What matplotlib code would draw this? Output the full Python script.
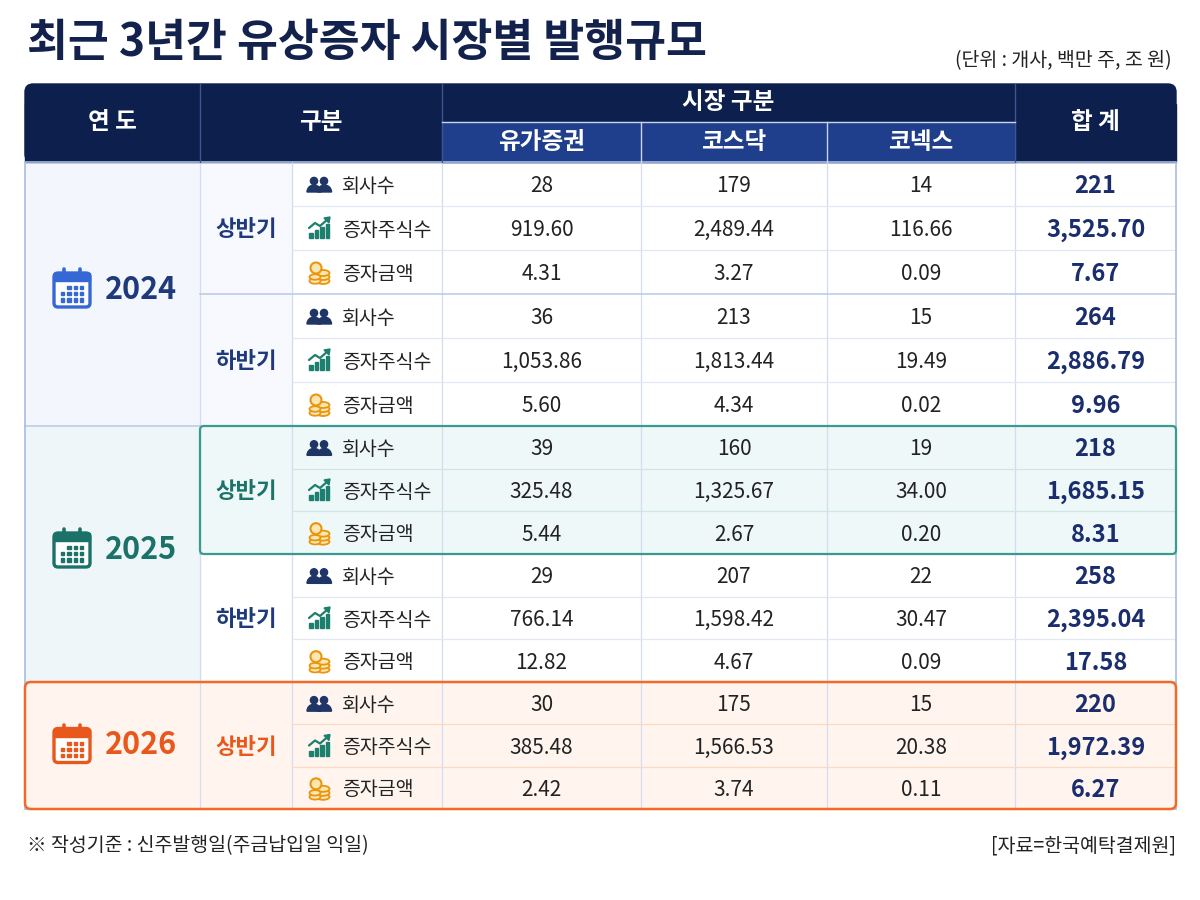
import matplotlib
matplotlib.use("Agg")
import matplotlib.pyplot as plt
from matplotlib.patches import Rectangle, FancyBboxPatch, Circle, Wedge, Ellipse, Polygon

plt.rcParams['font.family'] = ['Noto Sans CJK KR', 'DejaVu Sans']

# ---- data ----
title = "최근 3년간 유상증자 시장별 발행규모"
unit_note = "(단위 : 개사, 백만 주, 조 원)"
foot_left = "※ 작성기준 : 신주발행일(주금납입일 익일)"
foot_right = "[자료=한국예탁결제원]"

years = ["2024", "2025", "2026"]
half_year = ["2024", "2024", "2025", "2025", "2026"]
half_label = ["상반기", "하반기", "상반기", "하반기", "상반기"]
metrics = ["회사수", "증자주식수", "증자금액"]
markets = ["유가증권", "코스닥", "코넥스"]

kospi = [[28, 919.60, 4.31], [36, 1053.86, 5.60], [39, 325.48, 5.44],
         [29, 766.14, 12.82], [30, 385.48, 2.42]]
kosdaq = [[179, 2489.44, 3.27], [213, 1813.44, 4.34], [160, 1325.67, 2.67],
          [207, 1598.42, 4.67], [175, 1566.53, 3.74]]
konex = [[14, 116.66, 0.09], [15, 19.49, 0.02], [19, 34.00, 0.20],
         [22, 30.47, 0.09], [15, 20.38, 0.11]]
total = [[221, 3525.70, 7.67], [264, 2886.79, 9.96], [218, 1685.15, 8.31],
         [258, 2395.04, 17.58], [220, 1972.39, 6.27]]

# ---- style ----
NAVY = "#0d1f4c"
SUB = "#1f3f8c"
TXT = "#222222"
TOT = "#1a2e6e"
year_color = {"2024": "#3568d4", "2025": "#1b7268", "2026": "#e8581c"}
year_text = {"2024": "#1f3a7a", "2025": "#1b7268", "2026": "#e8581c"}
sem_color = ["#1f3a7a", "#1f3a7a", "#1b7268", "#1f3a7a", "#e8581c"]

X = [25, 200, 292, 442, 641, 827, 1015, 1176]
H_TOP, H_MID, H_BOT = 84, 122, 162
# pixel edges of the year blocks (layout only)
BLOCK_EDGES = {"2024": (162, 426), "2025": (426, 682), "2026": (682, 809)}
B_BOT = 809
DY = 2  # text baseline nudge

year_rows = {}
for hi, yr in enumerate(half_year):
    year_rows.setdefault(yr, []).append(hi)

# row edges: each year block split evenly over its rows
row_edges = []
for yr in years:
    y0, y1 = BLOCK_EDGES[yr]
    n = 3 * len(year_rows[yr])
    row_edges += [y0 + (y1 - y0) * k / n for k in range(n)]
row_edges.append(B_BOT)


def row_y(r):
    return row_edges[r]


def fmt(v, m):
    return f"{v:,.0f}" if m == 0 else f"{v:,.2f}"


def people_icon(ax, cx, cy, c="#1e3566"):
    ax.add_patch(Circle((cx - 5, cy - 4), 3.6, color=c, zorder=6))
    ax.add_patch(Circle((cx + 5, cy - 4), 3.6, color=c, zorder=6))
    ax.add_patch(Wedge((cx - 5, cy + 7), 7, 180, 360, color=c, zorder=6))
    ax.add_patch(Wedge((cx + 5.5, cy + 7), 7, 180, 360, color=c, zorder=6))


def chart_icon(ax, cx, cy, c="#1d7f6e"):
    for i, h in enumerate([5, 8, 11, 14]):
        ax.add_patch(Rectangle((cx - 10 + i * 5.5, cy + 9 - h), 3.8, h, color=c, zorder=6))
    ax.plot([cx - 10, cx - 4, cx + 1, cx + 9], [cy - 1, cy - 6, cy - 3, cy - 10],
            color=c, lw=1.6, zorder=7, solid_capstyle="round")
    ax.add_patch(Polygon([[cx + 11, cy - 12], [cx + 5, cy - 11], [cx + 10, cy - 6]],
                         color=c, zorder=7))


def coins_icon(ax, cx, cy, c="#fde6b0", e="#e8960f"):
    for dy in [8, 4, 0]:
        ax.add_patch(Ellipse((cx + 4, cy + dy), 13, 6, facecolor=c, edgecolor=e, lw=1.3, zorder=6))
    for dy in [8, 4]:
        ax.add_patch(Ellipse((cx - 4, cy + dy), 11, 5.5, facecolor=c, edgecolor=e, lw=1.3, zorder=6))
    ax.add_patch(Circle((cx - 3, cy - 5), 5.5, facecolor=c, edgecolor=e, lw=1.5, zorder=7))


def calendar_icon(ax, cx, cy, c, w=36, h=38):
    top = cy - h / 2
    ax.add_patch(FancyBboxPatch((cx - w / 2, top + 4), w, h - 4,
                                boxstyle="round,pad=0,rounding_size=4",
                                facecolor="white", edgecolor=c, lw=2.4, zorder=6))
    ax.add_patch(Rectangle((cx - w / 2, top + 4), w, 8, color=c, zorder=6))
    for dx in (-8, 8):
        ax.plot([cx + dx, cx + dx], [top, top + 8], color=c, lw=2.6,
                solid_capstyle="round", zorder=7)
    for r in range(3):
        for k in range(4):
            if r == 0 and k == 0:
                continue
            ax.add_patch(Rectangle((cx - 11 + k * 6.4, top + 17 + r * 6.2), 3.2, 3.2,
                                   color=c, zorder=7))


fig = plt.figure(figsize=(12, 9), dpi=100)
ax = fig.add_axes([0, 0, 1, 1])
ax.set_xlim(0, 1200)
ax.set_ylim(900, 0)
ax.axis("off")

# title & notes
ax.text(27, 43, title, fontsize=32, fontweight="bold", color="#13224d",
        ha="left", va="center")
ax.text(1172, 61, unit_note, fontsize=14, color="#222222", ha="right", va="center")
ax.text(27, 846, foot_left, fontsize=14, color="#222222", ha="left", va="center")
ax.text(1176, 846, foot_right, fontsize=14, color="#222222", ha="right", va="center")

# header
ax.add_patch(FancyBboxPatch((X[0], H_TOP), X[-1] - X[0], H_BOT - H_TOP,
                            boxstyle="round,pad=0,rounding_size=8", color=NAVY, zorder=2))
ax.add_patch(Rectangle((X[0], H_TOP + 20), X[-1] - X[0], H_BOT - H_TOP - 20, color=NAVY, zorder=2))
ax.add_patch(Rectangle((X[3], H_MID), X[6] - X[3], H_BOT - H_MID, color=SUB, zorder=3))
for xv in (X[1], X[3], X[6]):
    ax.plot([xv, xv], [H_TOP, H_BOT], color="#3a5590", lw=1, zorder=4)
for xv in (X[4], X[5]):
    ax.plot([xv, xv], [H_MID, H_BOT], color="#c8d4ee", lw=1, zorder=4)
ax.plot([X[3], X[6]], [H_MID, H_MID], color="#c8d4ee", lw=1, zorder=4)

hk = dict(fontsize=17, fontweight="bold", color="white", ha="center", va="center", zorder=5)
ax.text((X[0] + X[1]) / 2, 122, "연 도", **hk)
ax.text((X[1] + X[3]) / 2, 122, "구분", **hk)
ax.text((X[3] + X[6]) / 2, 102, "시장 구분", **hk)
for i, m in enumerate(markets):
    ax.text((X[3 + i] + X[4 + i]) / 2, 142, m, **hk)
ax.text((X[6] + X[7]) / 2, 122, "합 계", **hk)

# body backgrounds
for hi, yr in enumerate(half_year):
    y0, y1 = row_y(hi * 3), row_y(hi * 3 + 3)
    if yr == "2024":
        ax.add_patch(Rectangle((X[1], y0), X[2] - X[1], y1 - y0, color="#f7f9fe", zorder=1))
    elif yr == "2025" and half_label[hi] == "상반기":
        ax.add_patch(Rectangle((X[1], y0), X[7] - X[1], y1 - y0, color="#eef8f8", zorder=1))
    elif yr == "2026":
        ax.add_patch(Rectangle((X[0], y0), X[7] - X[0], y1 - y0, color="#fff5ee", zorder=1))

ybg = {"2024": "#f3f7fd", "2025": "#eef6f9"}
for yr, his in year_rows.items():
    y0, y1 = row_y(his[0] * 3), row_y(his[-1] * 3 + 3)
    if yr in ybg:
        ax.add_patch(Rectangle((X[0], y0), X[1] - X[0], y1 - y0, color=ybg[yr], zorder=1))

# grid lines
for xv in X[1:-1]:
    ax.plot([xv, xv], [H_BOT, B_BOT], color="#d3ddef", lw=0.9, zorder=3)
for hi in range(len(half_label)):
    gc = "#fbd9c2" if half_year[hi] == "2026" else ("#cfe6e3" if hi == 2 else "#e1e8f3")
    for k in (1, 2):
        yv = row_y(hi * 3 + k)
        ax.plot([X[2], X[7]], [yv, yv], color=gc, lw=0.9, zorder=3)
    if hi > 0:
        yv = row_y(hi * 3)
        x0 = X[0] if half_year[hi] != half_year[hi - 1] else X[1]
        ax.plot([x0, X[7]], [yv, yv], color="#b9c9e4", lw=1.1, zorder=3)
ax.add_patch(Rectangle((X[0], H_BOT), X[7] - X[0], B_BOT - H_BOT, fill=False,
                       edgecolor="#a8bde0", lw=1.2, zorder=3))

# highlight boxes
ax.add_patch(FancyBboxPatch((X[1], row_y(6)), X[7] - X[1], row_y(9) - row_y(6),
                            boxstyle="round,pad=0,rounding_size=4", fill=False,
                            edgecolor="#3b9a8f", lw=1.6, zorder=4))
ax.add_patch(FancyBboxPatch((X[0], row_y(12)), X[7] - X[0], row_y(15) - row_y(12),
                            boxstyle="round,pad=0,rounding_size=6", fill=False,
                            edgecolor="#f26a2a", lw=1.8, zorder=4))

# year labels
for yr, his in year_rows.items():
    yc = (row_y(his[0] * 3) + row_y(his[-1] * 3 + 3)) / 2 - 6
    if yr == "2026":
        yc += 4
    calendar_icon(ax, 72, yc, year_color[yr])
    ax.text(141, yc + DY, yr, fontsize=22, fontweight="bold", color=year_text[yr],
            ha="center", va="center", zorder=6)

# rows
icons = [people_icon, chart_icon, coins_icon]
for hi in range(len(half_label)):
    yc = (row_y(hi * 3) + row_y(hi * 3 + 3)) / 2
    ax.text((X[1] + X[2]) / 2, yc + DY, half_label[hi], fontsize=16, fontweight="bold",
            color=sem_color[hi], ha="center", va="center", zorder=6)
    for m in range(3):
        ry = (row_y(hi * 3 + m) + row_y(hi * 3 + m + 1)) / 2
        icons[m](ax, 319, ry + 1)
        ax.text(342, ry + DY, metrics[m], fontsize=14, color=TXT, ha="left", va="center", zorder=6)
        for ci, arr in enumerate([kospi, kosdaq, konex]):
            ax.text((X[3 + ci] + X[4 + ci]) / 2, ry + DY, fmt(arr[hi][m], m), fontsize=15,
                    color=TXT, ha="center", va="center", zorder=6)
        ax.text((X[6] + X[7]) / 2, ry + DY, fmt(total[hi][m], m), fontsize=17,
                fontweight="bold", color=TOT, ha="center", va="center", zorder=6)

fig.savefig("out.png", dpi=100)
